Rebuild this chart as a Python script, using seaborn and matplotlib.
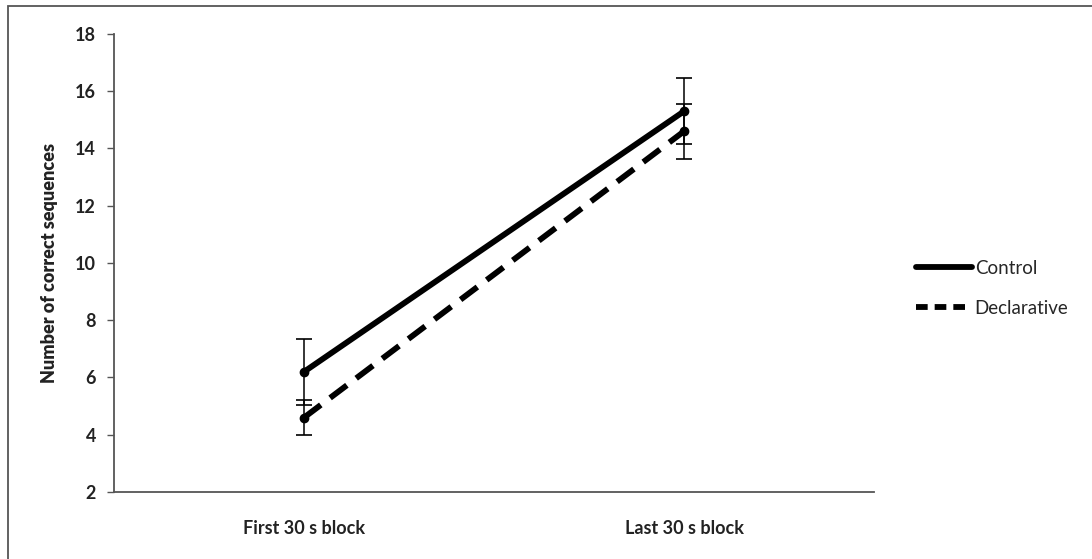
import numpy as np
import pandas as pd
import matplotlib
matplotlib.use("Agg")
import matplotlib.pyplot as plt
import seaborn as sns
from matplotlib.lines import Line2D

blocks = ["First 30 s block", "Last 30 s block"]
groups = ["Control", "Declarative"]
control_mean = [6.2, 15.3]
control_err = [1.15, 1.15]
declarative_mean = [4.6, 14.6]
declarative_err = [0.6, 0.95]

sns.set_theme(style="white")
plt.rcParams['font.family'] = ['Lato', 'DejaVu Sans']

df = pd.DataFrame({
    "pos": [0, 1, 0, 1],
    "mean": control_mean + declarative_mean,
    "err": control_err + declarative_err,
    "group": [groups[0]] * 2 + [groups[1]] * 2,
})

fig = plt.figure(figsize=(10.92, 5.59), dpi=100)
fig.patch.set_facecolor("white")
ax = fig.add_axes([0.1044, 0.1199, 0.696, 0.8193])

lw = 4.2
sns.lineplot(data=df, x="pos", y="mean", style="group", hue="group",
             palette=["black", "black"], dashes={"Control": "", "Declarative": (3.6, 2.0)},
             linewidth=lw, ax=ax, legend=False)

for g in groups:
    sub = df[df.group == g]
    ax.errorbar(sub["pos"], sub["mean"], yerr=sub["err"], fmt="o", ms=6,
                color="black", ecolor="black", elinewidth=1.1, capsize=6, capthick=1.2)

ax.set_xlim(-0.5, 1.5)
ax.set_ylim(2, 18)
ax.set_yticks(range(2, 19, 2))
ax.set_xticks([0, 1])
ax.set_xticklabels(blocks)
ax.set_xlabel("")
ax.set_ylabel("Number of correct sequences", labelpad=12)
ax.yaxis.label.set_fontsize(13)
ax.yaxis.label.set_fontweight("heavy")
ax.yaxis.label.set_color("#222222")
ax.tick_params(axis="y", direction="out", length=5, width=1, color="#555555",
               labelsize=13, labelcolor="#222222", left=True, pad=8)
ax.tick_params(axis="x", length=0, labelsize=13, labelcolor="#222222", pad=20)
for lab in ax.get_yticklabels() + ax.get_xticklabels():
    lab.set_fontweight("bold")
for s in ["top", "right"]:
    ax.spines[s].set_visible(False)
for s in ["left", "bottom"]:
    ax.spines[s].set_color("#555555")
    ax.spines[s].set_linewidth(1.3)

handles = [Line2D([], [], color="black", lw=lw),
           Line2D([], [], color="black", lw=lw, dashes=(2.0, 1.2))]
leg = fig.legend(handles, groups, loc="upper left", bbox_to_anchor=(0.823, 0.565),
                 frameon=False, handlelength=3.0, handletextpad=0.15, labelspacing=1.2,
                 prop={"size": 13.5})

fig.add_artist(plt.Rectangle((8 / 1092, -0.1), 1.2, 1 - 6 / 559 + 0.1,
                             transform=fig.transFigure, fill=False,
                             edgecolor="#555555", linewidth=1.3))

fig.savefig("out.png", dpi=100)
